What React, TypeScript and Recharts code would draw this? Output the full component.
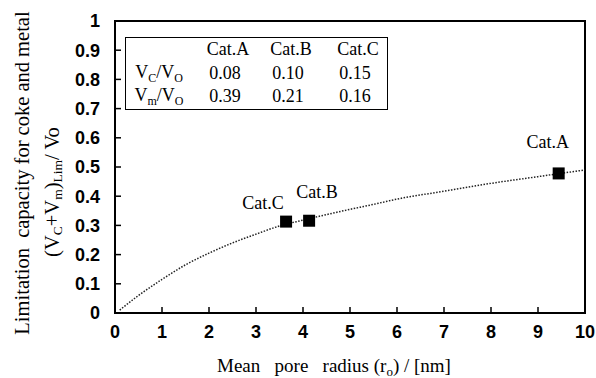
import React from "react";
import {
  ComposedChart,
  Line,
  Scatter,
  XAxis,
  YAxis,
  ReferenceArea,
  LabelList,
} from "recharts";

// Fitted curve
const curveX = [0.1, 0.5, 1, 1.5, 2, 2.5, 3, 3.5, 4, 4.5, 5, 5.5, 6, 7, 8, 9, 10];
const curveY = [0.01, 0.06, 0.115, 0.165, 0.205, 0.24, 0.27, 0.298, 0.318, 0.337, 0.355, 0.372, 0.39, 0.417, 0.444, 0.467, 0.49];

// Catalyst points
const catNames = ["Cat.A", "Cat.B", "Cat.C"];
const catRadius = [9.44, 4.13, 3.64];
const catCapacity = [0.478, 0.316, 0.313];

// Table values
const vcVo = ["0.08", "0.10", "0.15"];
const vmVo = ["0.39", "0.21", "0.16"];

const xTicks = [0, 1, 2, 3, 4, 5, 6, 7, 8, 9, 10];
const yTicks = [0, 0.1, 0.2, 0.3, 0.4, 0.5, 0.6, 0.7, 0.8, 0.9, 1];

const curveData = curveX.map((x, i) => ({ x, y: curveY[i] }));
const catData = catNames.map((name, i) => ({ name, x: catRadius[i], y: catCapacity[i] }));

const labelOffsets: Record<string, [number, number]> = {
  "Cat.A": [-11, -31],
  "Cat.B": [8, -29],
  "Cat.C": [-23, -19],
};

const serif = "'Liberation Serif', 'Times New Roman', serif";
const sans = "'Liberation Sans', Arial, sans-serif";

const Square = (props: any) => {
  const { cx, cy } = props;
  if (cx == null || cy == null) return null;
  return <rect x={cx - 6} y={cy - 6} width={12} height={12} fill="#000" />;
};

const CatLabel = (props: any) => {
  const { x, y, width, height, value } = props;
  const cx = x + (width || 0) / 2;
  const cy = y + (height || 0) / 2;
  const off = labelOffsets[value] || [0, -20];
  return (
    <text
      x={cx + off[0]}
      y={cy + off[1]}
      textAnchor="middle"
      dominantBaseline="central"
      fontFamily={serif}
      fontSize={18}
      fill="#000"
    >
      {value}
    </text>
  );
};

const YTitle = () => (
  <g>
    <text
      transform="translate(22,173) rotate(-90)"
      textAnchor="middle"
      dominantBaseline="central"
      fontFamily={serif}
      fontSize={20.5}
      fill="#000"
      style={{ whiteSpace: "pre" }}
    >
      {"Limitation  capacity for coke and metal"}
    </text>
    <text
      transform="translate(52,192) rotate(-90)"
      textAnchor="middle"
      dominantBaseline="central"
      fontFamily={serif}
      fontSize={20.5}
      fill="#000"
    >
      <tspan>(V</tspan>
      <tspan fontSize={13.5} dy={5}>C</tspan>
      <tspan dy={-5}>+V</tspan>
      <tspan fontSize={13.5} dy={5}>m</tspan>
      <tspan dy={-5}>)</tspan>
      <tspan fontSize={13.5} dy={5}>Lim</tspan>
      <tspan dy={-5}>/ Vo</tspan>
    </text>
  </g>
);

const XTitle = () => (
  <text
    x={334}
    y={372}
    textAnchor="middle"
    fontFamily={serif}
    fontSize={19}
    fill="#000"
    style={{ whiteSpace: "pre" }}
  >
    <tspan>{"Mean   pore   radius (r"}</tspan>
    <tspan fontSize={13} dy={4}>o</tspan>
    <tspan dy={-4}>{") / [nm]"}</tspan>
  </text>
);

const cellStyle: React.CSSProperties = {
  position: "absolute",
  transform: "translate(-50%, -50%)",
  fontFamily: serif,
  fontSize: 18,
  color: "#000",
  whiteSpace: "nowrap",
  lineHeight: 1,
};

const subStyle: React.CSSProperties = { fontSize: 12, verticalAlign: "-4px" };

const colX = [228, 291, 358];
const rowY = [49, 73, 96];

export default function App() {
  return (
    <div style={{ position: "absolute", left: 0, top: 0, width: 596, height: 378, background: "#fff" }}>
      <ComposedChart
        width={596}
        height={378}
        margin={{ top: 21, right: 11, bottom: 25, left: 55 }}
      >
        <XAxis
          type="number"
          dataKey="x"
          domain={[0, 10]}
          ticks={xTicks}
          allowDataOverflow
          height={40}
          stroke="#000"
          axisLine={{ stroke: "#000", strokeWidth: 2 }}
          tickLine={{ stroke: "#000", strokeWidth: 1.5 }}
          tickSize={-6}
          tickMargin={18}
          tick={{ fill: "#000", fontFamily: sans, fontSize: 18, fontWeight: "bold" }}
          label={{ content: () => <XTitle /> }}
        />
        <YAxis
          type="number"
          dataKey="y"
          domain={[0, 1]}
          ticks={yTicks}
          allowDataOverflow
          width={60}
          stroke="#000"
          axisLine={{ stroke: "#000", strokeWidth: 2 }}
          tickLine={{ stroke: "#000", strokeWidth: 1.5 }}
          tickSize={-6}
          tickMargin={21}
          tick={{ fill: "#000", fontFamily: sans, fontSize: 18, fontWeight: "bold" }}
          tickFormatter={(v: number) => String(Math.round(v * 10) / 10)}
          label={{ content: () => <YTitle /> }}
        />
        <ReferenceArea
          x1={0}
          x2={10}
          y1={0}
          y2={1}
          fill="none"
          stroke="#000"
          strokeWidth={2}
          ifOverflow="visible"
        />
        <Line
          data={curveData}
          dataKey="y"
          type="monotone"
          stroke="#222"
          strokeWidth={1.5}
          strokeDasharray="1.5 1.5"
          dot={false}
          activeDot={false}
          isAnimationActive={false}
        />
        <Scatter data={catData} dataKey="y" shape={<Square />} isAnimationActive={false}>
          <LabelList dataKey="name" content={<CatLabel />} />
        </Scatter>
      </ComposedChart>
      <div
        style={{
          position: "absolute",
          left: 125,
          top: 37,
          width: 263,
          height: 73,
          border: "1.5px solid #000",
          boxSizing: "border-box",
        }}
      />
      {catNames.map((n, i) => (
        <div key={n} style={{ ...cellStyle, left: colX[i], top: rowY[0] }}>{n}</div>
      ))}
      <div style={{ ...cellStyle, left: 159, top: rowY[1] }}>
        V<span style={subStyle}>C</span>/V<span style={subStyle}>O</span>
      </div>
      <div style={{ ...cellStyle, left: 159, top: rowY[2] }}>
        V<span style={subStyle}>m</span>/V<span style={subStyle}>O</span>
      </div>
      {vcVo.map((v, i) => (
        <div key={"c" + i} style={{ ...cellStyle, left: colX[i] - 3, top: rowY[1] }}>{v}</div>
      ))}
      {vmVo.map((v, i) => (
        <div key={"m" + i} style={{ ...cellStyle, left: colX[i] - 3, top: rowY[2] }}>{v}</div>
      ))}
    </div>
  );
}
